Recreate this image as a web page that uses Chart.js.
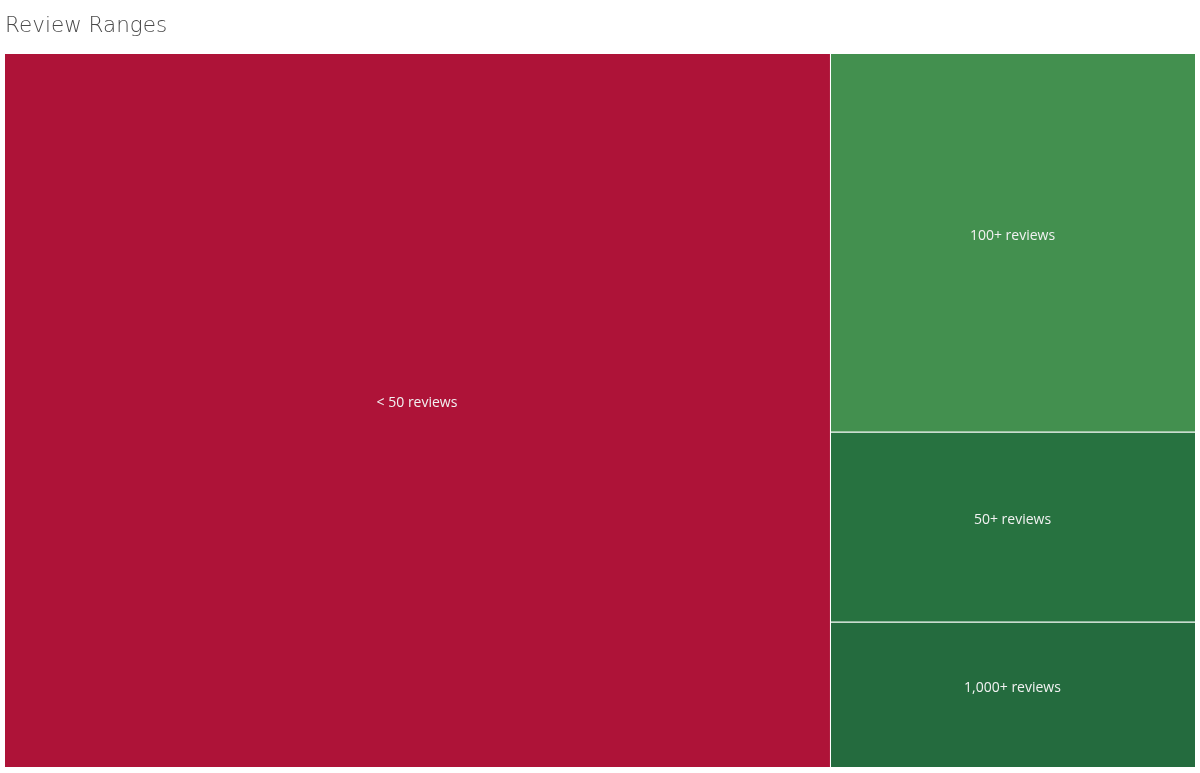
<!DOCTYPE html>
<html>
<head>
<meta charset="utf-8">
<title>Review Ranges</title>
<script src="https://cdn.jsdelivr.net/npm/chart.js@4/dist/chart.umd.min.js"></script>
<style>
  html, body { margin: 0; padding: 0; background: #ffffff; }
  #wrap { width: 1200px; height: 773px; }
</style>
</head>
<body>
<div id="wrap"><canvas id="chart" width="1200" height="773"></canvas></div>
<script>
// Review range groups and the number of items in each
const categories = ['< 50 reviews', '100+ reviews', '50+ reviews', '1,000+ reviews'];
const counts = [1387, 325, 163, 125];
const cellColors = ['#ae1338', '#43904f', '#277240', '#246b3e'];
const chartTitle = 'Review Ranges';

// Layout: the largest group fills a full-height column on the left,
// the remaining groups are stacked top to bottom in the column beside it.
// Everything is in data units (0..1 on both axes, y = 1 at the top).
function layoutCells(values) {
  const total = values.reduce((a, b) => a + b, 0);
  const firstW = values[0] / total;
  const cells = [{ x0: 0, x1: firstW, y0: 0, y1: 1 }];
  const rest = total - values[0];
  let top = 1;
  for (let i = 1; i < values.length; i++) {
    const h = values[i] / rest;
    cells.push({ x0: firstW, x1: 1, y0: top - h, y1: top });
    top -= h;
  }
  return cells;
}

class TreemapController extends Chart.DatasetController {
  parse(start, count) {
    const meta = this._cachedMeta;
    const data = this.getDataset().data;
    const parsed = [];
    for (let i = 0; i < data.length; i++) parsed.push({ x: i, y: data[i] });
    meta._parsed = parsed;
  }
  getMinMax() { return { min: 0, max: 1 }; }
  update(mode) {
    const meta = this._cachedMeta;
    this.updateElements(meta.data, 0, meta.data.length, mode);
  }
  updateElements(rects, start, count, mode) {
    const meta = this._cachedMeta;
    const xScale = meta.xScale, yScale = meta.yScale;
    const cells = layoutCells(this.getDataset().data);
    for (let i = start; i < start + count; i++) {
      const c = cells[i];
      const left = xScale.getPixelForValue(c.x0);
      const right = xScale.getPixelForValue(c.x1);
      const top = yScale.getPixelForValue(c.y1);
      const bottom = yScale.getPixelForValue(c.y0);
      const props = {
        x: (left + right) / 2,
        width: right - left,
        y: top,
        base: bottom,
        height: bottom - top,
        horizontal: false,
        inflateAmount: 0,
        enableBorderRadius: false,
        borderSkipped: { top: false, right: false, bottom: false, left: false },
        options: this.resolveDataElementOptions(i, mode)
      };
      this.updateElement(rects[i], i, props, mode);
    }
  }
}
TreemapController.id = 'treemap';
TreemapController.defaults = { datasetElementType: false, dataElementType: 'bar' };
TreemapController.overrides = {
  scales: { x: { type: 'linear' }, y: { type: 'linear' } }
};
Chart.register(TreemapController);

// Writes each group's name in the middle of its cell
const cellLabels = {
  id: 'cellLabels',
  afterDatasetsDraw(chart) {
    const ctx = chart.ctx;
    const meta = chart.getDatasetMeta(0);
    ctx.save();
    ctx.fillStyle = '#f2f2f2';
    ctx.font = '14px "Open Sans"';
    ctx.textAlign = 'center';
    ctx.textBaseline = 'middle';
    meta.data.forEach((el, i) => {
      const cx = el.x - 1;
      const cy = (el.y + el.base) / 2 - 7.5;
      ctx.fillText(categories[i], cx, cy);
    });
    ctx.restore();
  }
};

new Chart(document.getElementById('chart'), {
  type: 'treemap',
  data: {
    labels: categories,
    datasets: [{
      data: counts,
      backgroundColor: cellColors,
      borderColor: '#ffffff',
      borderWidth: { top: 0, left: 0, right: 1, bottom: 1 },
      borderRadius: 0
    }]
  },
  options: {
    responsive: false,
    animation: false,
    events: [],
    layout: { padding: { left: 5, right: 4, top: 0, bottom: 5 } },
    scales: {
      x: { type: 'linear', min: 0, max: 1, display: false },
      y: { type: 'linear', min: 0, max: 1, display: false }
    },
    plugins: {
      legend: { display: false },
      tooltip: { enabled: false },
      title: {
        display: true,
        text: chartTitle,
        align: 'start',
        color: '#4a4a4a',
        font: { family: '"DejaVu Sans"', size: 21.5, weight: 200, lineHeight: 1.2 },
        padding: { top: 14, bottom: 14.2 }
      }
    }
  },
  plugins: [cellLabels]
});
</script>
</body>
</html>
